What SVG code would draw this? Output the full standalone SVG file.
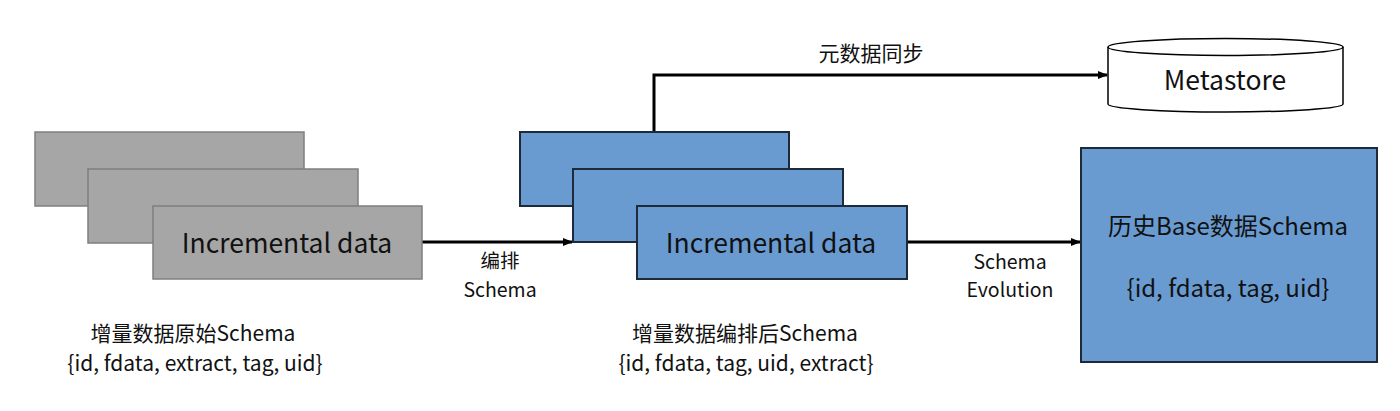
<svg xmlns="http://www.w3.org/2000/svg" width="1400" height="411" viewBox="0 0 1400 411">
<style>
.gray{fill:#a6a6a6;stroke:#7f7f7f;stroke-width:1.5}
.blue{fill:#699bd1;stroke:#1c2a3a;stroke-width:2}
.t{font-family:"Noto Sans CJK SC","Noto Sans",sans-serif;fill:#111;text-anchor:middle}
.big{font-size:26.5px}
.mid{font-size:21px}
.sm{font-size:19.5px}
.lg{font-size:24px}
.conn{fill:none;stroke:#000;stroke-width:3}
</style>
<defs>
<marker id="arr" markerWidth="10" markerHeight="10" refX="9" refY="5" orient="auto" markerUnits="userSpaceOnUse">
<path d="M0,1 L10,5 L0,9 z" fill="#000"/>
</marker>
</defs>
<g id="connectors">
<line class="conn" x1="422" y1="242" x2="572" y2="242" marker-end="url(#arr)"/>
<line class="conn" x1="907" y1="242" x2="1080" y2="242" marker-end="url(#arr)"/>
<polyline class="conn" points="654,132 654,75 1107,75" marker-end="url(#arr)"/>
<text class="t sm" x="500" y="268">编排</text>
<text class="t sm" x="500" y="297">Schema</text>
<text class="t sm" x="1010" y="269">Schema</text>
<text class="t sm" x="1010" y="297">Evolution</text>
<text class="t mid" x="871" y="61">元数据同步</text>
</g>
<g id="raw-incremental">
<rect class="gray" x="35" y="132" width="269" height="74"/>
<rect class="gray" x="88" y="169" width="270" height="74"/>
<rect class="gray" x="153" y="206" width="269" height="73"/>
<text class="t big" x="287" y="253">Incremental data</text>
</g>
<g id="raw-label">
<text class="t mid" x="193" y="341">增量数据原始Schema</text>
<text class="t mid" x="195" y="371">{id, fdata, extract, tag, uid}</text>
</g>
<g id="arranged-incremental">
<rect class="blue" x="520" y="132" width="269" height="74"/>
<rect class="blue" x="573" y="169" width="270" height="73"/>
<rect class="blue" x="637" y="206" width="270" height="73"/>
<text class="t big" x="771" y="253">Incremental data</text>
</g>
<g id="arranged-label">
<text class="t mid" x="745" y="341">增量数据编排后Schema</text>
<text class="t mid" x="746" y="371">{id, fdata, tag, uid, extract}</text>
</g>
<g id="metastore">
<path d="M1108,47 L1108,104 A117.5,8 0 0 0 1343,104 L1343,47" fill="#fff" stroke="#000" stroke-width="1.5"/>
<ellipse cx="1225.5" cy="47" rx="117.5" ry="8.5" fill="#fff" stroke="#000" stroke-width="1.5"/>
<text class="t big" x="1225" y="90">Metastore</text>
</g>
<g id="base-schema">
<rect class="blue" x="1081" y="148" width="296" height="214"/>
<text class="t lg" x="1228" y="235">历史Base数据Schema</text>
<text class="t lg" x="1228" y="297">{id, fdata, tag, uid}</text>
</g>
</svg>
